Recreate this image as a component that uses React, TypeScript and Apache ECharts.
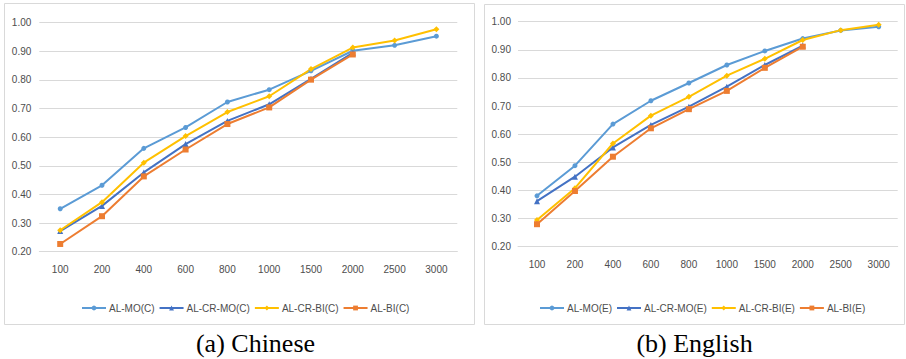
import React, { useEffect, useRef } from "react";
import * as echarts from "echarts";

const categories = ["100", "200", "400", "600", "800", "1000", "1500", "2000", "2500", "3000"];
const yTicks = { min: 0.2, max: 1.0, interval: 0.1 };

// (a) Chinese
const alMoC = [0.35, 0.432, 0.561, 0.634, 0.723, 0.766, 0.832, 0.902, 0.921, 0.953];
const alCrMoC = [0.272, 0.36, 0.477, 0.576, 0.657, 0.715, 0.804, 0.895];
const alCrBiC = [0.275, 0.373, 0.511, 0.604, 0.688, 0.743, 0.838, 0.913, 0.938, 0.977];
const alBiC = [0.227, 0.324, 0.463, 0.557, 0.646, 0.704, 0.801, 0.889];

// (b) English
const alMoE = [0.381, 0.488, 0.636, 0.719, 0.782, 0.846, 0.896, 0.94, 0.969, 0.982];
const alCrMoE = [0.362, 0.449, 0.553, 0.633, 0.698, 0.769, 0.846, 0.915];
const alCrBiE = [0.295, 0.408, 0.567, 0.666, 0.733, 0.808, 0.868, 0.935, 0.97, 0.989];
const alBiE = [0.28, 0.398, 0.52, 0.621, 0.689, 0.754, 0.836, 0.911];

const namesC = ["AL-MO(C)", "AL-CR-MO(C)", "AL-CR-BI(C)", "AL-BI(C)"];
const namesE = ["AL-MO(E)", "AL-CR-MO(E)", "AL-CR-BI(E)", "AL-BI(E)"];
const captions = ["(a) Chinese", "(b) English"];

const colors = ["#5B9BD5", "#4472C4", "#FFC000", "#ED7D31"];
const symbols = ["circle", "triangle", "diamond", "rect"];
const symbolSizes = [5, 6, 6, 6];

const FONT = "'Liberation Sans', Arial, sans-serif";
const TXT = "#4D4D4D";

export default function App() {
  const ref = useRef<HTMLDivElement>(null);
  useEffect(() => {
    if (!ref.current) return;
    const chart = echarts.init(ref.current, null, { renderer: "svg" });
    const grids = [
      { left: 39.3, top: 22.7, width: 418, height: 229 },
      { left: 518, top: 21.7, width: 379.7, height: 225 },
    ];
    const mkX = (i: number) => ({
      type: "category",
      gridIndex: i,
      data: categories,
      boundaryGap: true,
      axisLine: { show: true, lineStyle: { color: "#D9D9D9", width: 1 } },
      axisTick: { show: false },
      axisLabel: { color: TXT, fontFamily: FONT, fontSize: 10, margin: 13 },
      splitLine: { show: false },
    });
    const mkY = (i: number) => ({
      type: "value",
      gridIndex: i,
      min: yTicks.min,
      max: yTicks.max,
      interval: yTicks.interval,
      axisLine: { show: false },
      axisTick: { show: false },
      axisLabel: {
        color: TXT,
        fontFamily: FONT,
        fontSize: 10,
        margin: i === 0 ? 8 : 7,
        formatter: (v: number) => v.toFixed(2),
      },
      splitLine: { lineStyle: { color: "#D9D9D9", width: 1 } },
    });
    const dataC = [alMoC, alCrMoC, alCrBiC, alBiC];
    const dataE = [alMoE, alCrMoE, alCrBiE, alBiE];
    const series: any[] = [];
    [dataC, dataE].forEach((set, gi) => {
      const names = gi === 0 ? namesC : namesE;
      set.forEach((d, si) => {
        series.push({
          type: "line",
          name: names[si],
          xAxisIndex: gi,
          yAxisIndex: gi,
          data: d,
          symbol: symbols[si],
          symbolSize: symbolSizes[si],
          showAllSymbol: true,
          lineStyle: { color: colors[si], width: 2 },
          itemStyle: { color: colors[si] },
          emphasis: { disabled: true },
        });
      });
    });
    const mkLegend = (names: string[], left: number) => ({
      data: names,
      left,
      top: 298,
      orient: "horizontal",
      itemWidth: 24,
      itemHeight: 6,
      itemGap: 4,
      textStyle: { color: TXT, fontFamily: FONT, fontSize: 10, padding: [0, 0, 0, -2] },
      selectedMode: false,
    });
    const captionFont = "26px 'Liberation Serif', 'Times New Roman', serif";
    chart.setOption({
      animation: false,
      color: colors,
      grid: grids,
      xAxis: [mkX(0), mkX(1)],
      yAxis: [mkY(0), mkY(1)],
      legend: [mkLegend(namesC, 76), mkLegend(namesE, 534)],
      series,
      graphic: [
        {
          type: "rect",
          shape: { x: 4.5, y: 3.5, width: 470, height: 321 },
          style: { fill: "none", stroke: "#D9D9D9", lineWidth: 1 },
          z: -10,
        },
        {
          type: "rect",
          shape: { x: 484.5, y: 4.5, width: 420, height: 320 },
          style: { fill: "none", stroke: "#D9D9D9", lineWidth: 1 },
          z: -10,
        },
        {
          type: "text",
          x: 255.5,
          y: 343,
          style: {
            text: captions[0],
            fill: "#000",
            font: captionFont,
            textAlign: "center",
            textVerticalAlign: "middle",
          },
        },
        {
          type: "text",
          x: 694.5,
          y: 343,
          style: {
            text: captions[1],
            fill: "#000",
            font: captionFont,
            textAlign: "center",
            textVerticalAlign: "middle",
          },
        },
      ],
    });
    return () => chart.dispose();
  }, []);
  return (
    <div
      ref={ref}
      style={{ position: "absolute", left: 0, top: 0, width: 906, height: 359, background: "#fff" }}
    />
  );
}
